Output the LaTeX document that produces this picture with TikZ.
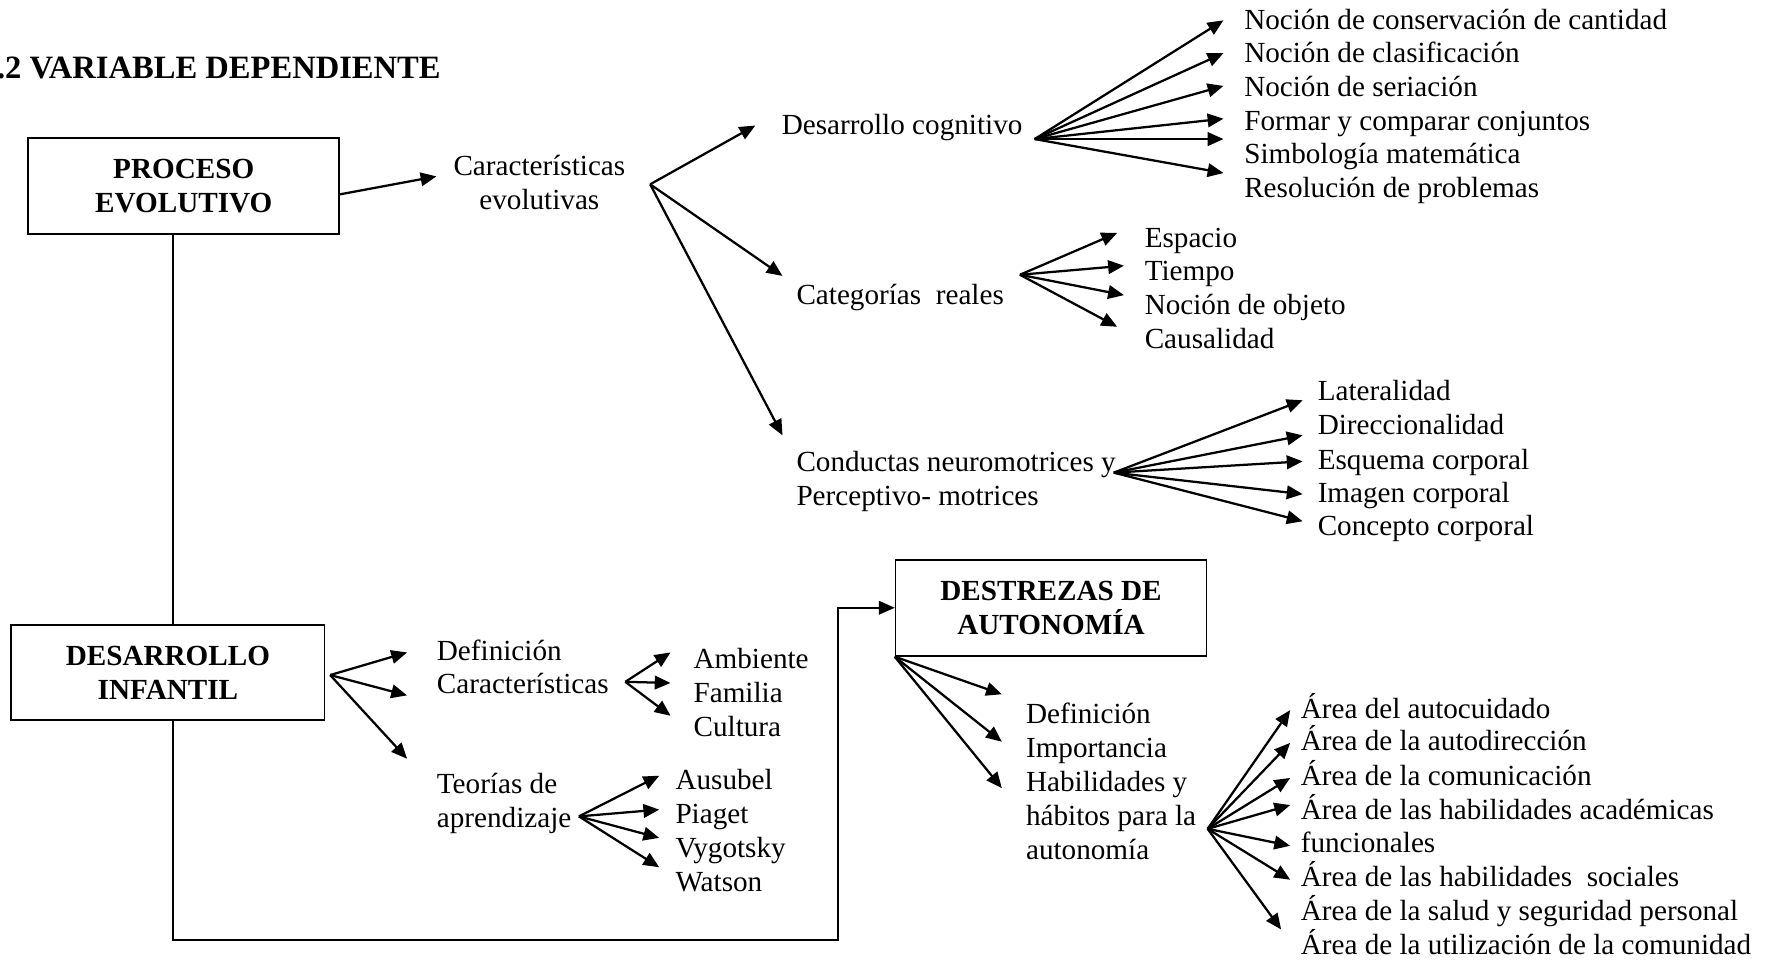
\documentclass[tikz,border=0pt]{standalone}
\usepackage{fontspec}
\setmainfont{Liberation Serif}
\usetikzlibrary{arrows.meta}
\begin{document}
\begin{tikzpicture}[x=0.5pt,y=-0.5pt,
 every node/.style={font=\fontsize{12.9}{15}\selectfont},
 lbl/.style={anchor=base west, inner sep=0pt},
 ctr/.style={align=center, inner sep=0pt},
 boxn/.style={draw, line width=0.75pt, minimum width=137.5pt, minimum height=42.5pt, align=center, inner sep=0pt, font=\fontsize{12.9}{15}\selectfont\bfseries},
 arr/.style={line width=1pt, -{Triangle[length=7pt,width=6pt]}},
 conn/.style={line width=0.6pt},
 connarr/.style={line width=0.8pt, -{Triangle[length=7pt,width=6pt]}}
]
\useasboundingbox (0,0) rectangle (1568,849);

% title
\node[lbl, font=\fontsize{14.4}{16}\selectfont\bfseries] (title) at (-3,69) {.2 VARIABLE DEPENDIENTE};

% boxes
\node[boxn] (proc) at (162.5,164.5) {PROCESO\\EVOLUTIVO};
\node[boxn, minimum width=138.5pt, minimum height=42pt] (desa) at (148.5,595) {DESARROLLO\\INFANTIL};
\node[boxn] (dest) at (929.5,537.5) {DESTREZAS DE\\AUTONOMÍA};

% trunk connectors
\coordinate (vx) at (153,0);
\coordinate (corner) at (741,831);
\draw[conn] (vx |- proc.south) -- (vx |- desa.north);
\draw[connarr] (vx |- desa.south) |- (corner) |- (dest.west);

% Caracteristicas evolutivas
\node[ctr] (ce) at (477,161) {Características\\evolutivas};
\coordinate (pe) at (300,172);
\coordinate (cet) at (386,156);
\draw[arr] (pe) -- (cet);

\coordinate (cef) at (575,163);
\coordinate (cet1) at (668,111);
\coordinate (cet2) at (692,244);
\coordinate (cet3) at (692,385);
\foreach \i in {1,2,3} \draw[arr] (cef) -- (cet\i);

% Desarrollo cognitivo
\node[lbl] (dcog) at (691,119) {Desarrollo cognitivo};
\coordinate (dc) at (915,123);
\foreach \y [count=\i] in {18,47,76,105,123,153} {
  \coordinate (dct\i) at (1082,\y);
  \draw[arr] (dc) -- (dct\i);
}
\foreach \t/\y [count=\i] in {{Noción de conservación de cantidad}/18,{Noción de clasificación}/47,{Noción de seriación}/77,{Formar y comparar conjuntos}/107,{Simbología matemática}/137,{Resolución de problemas}/167}
  \node[lbl] (dci\i) at (1100,\y+8) {\t};

% Categorias reales
\node[lbl] (cat) at (704,269) {Categorías\ \ reales};
\coordinate (cr) at (902,243);
\foreach \x/\y [count=\i] in {988/206,994/235,994/261,988/289} {
  \coordinate (crt\i) at (\x,\y);
  \draw[arr] (cr) -- (crt\i);
}
\foreach \t/\y [count=\i] in {Espacio/211,Tiempo/240,{Noción de objeto}/270,Causalidad/300}
  \node[lbl] (cri\i) at (1012,\y+8) {\t};

% Conductas
\node[lbl] (cond1) at (704,417) {Conductas neuromotrices y};
\node[lbl] (cond2) at (704,447) {Perceptivo- motrices};
\coordinate (cn) at (985,418);
\foreach \y [count=\i] in {354,385,408,437,461} {
  \coordinate (cnt\i) at (1152,\y);
  \draw[arr] (cn) -- (cnt\i);
}
\foreach \t/\y [count=\i] in {Lateralidad/346,Direccionalidad/376,{Esquema corporal}/407,{Imagen corporal}/436,{Concepto corporal}/466}
  \node[lbl] (cni\i) at (1165,\y+8) {\t};

% Desarrollo infantil fan
\coordinate (di) at (292,597);
\foreach \y [count=\i] in {577,615,671} {
  \coordinate (dit\i) at (360,\y);
  \draw[arr] (di) -- (dit\i);
}
\node[lbl] (def1) at (386,584) {Definición};
\node[lbl] (car1) at (386,613) {Características};
\coordinate (df) at (553,603);
\foreach \y [count=\i] in {577,604,633} {
  \coordinate (dft\i) at (593,\y);
  \draw[arr] (df) -- (dft\i);
}
\foreach \t/\y [count=\i] in {Ambiente/583,Familia/613,Cultura/643}
  \node[lbl] (dfi\i) at (613,\y+8) {\t};

\node[lbl] (teo1) at (386,702) {Teorías de};
\node[lbl] (teo2) at (386,732) {aprendizaje};
\coordinate (ta) at (512,722);
\foreach \y [count=\i] in {686,716,741,767} {
  \coordinate (tat\i) at (583,\y);
  \draw[arr] (ta) -- (tat\i);
}
\foreach \t/\y [count=\i] in {Ausubel/690,Piaget/720,Vygotsky/750,Watson/780}
  \node[lbl] (tai\i) at (597,\y+8) {\t};

% Destrezas fan
\foreach \y [count=\i] in {614,656,697} {
  \coordinate (dat\i) at (886,\y);
  \draw[arr] (dest.south west) -- (dat\i);
}
\foreach \t/\y [count=\i] in {Definición/632,Importancia/662,{Habilidades y}/692,{hábitos para la}/722,autonomía/752}
  \node[lbl] (dai\i) at (907,\y+8) {\t};

\coordinate (ha) at (1068,733);
\foreach \x/\y [count=\i] in {1141/628,1141/657,1141/688,1141/712,1141/748,1141/778,1133/822} {
  \coordinate (hat\i) at (\x,\y);
  \draw[arr] (ha) -- (hat\i);
}
\foreach \t/\y [count=\i] in {{Área del autocuidado}/627,{Área de la autodirección}/656,{Área de la comunicación}/687,{Área de las habilidades académicas}/717,funcionales/746,{Área de las habilidades\ \ sociales}/776,{Área de la salud y seguridad personal}/806,{Área de la utilización de la comunidad}/836}
  \node[lbl] (hai\i) at (1150,\y+8) {\t};

\end{tikzpicture}
\end{document}
